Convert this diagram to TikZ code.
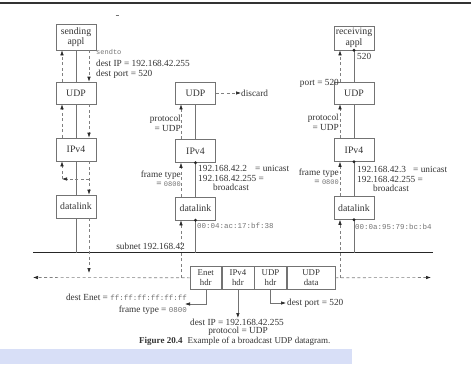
\documentclass[tikz,border=0pt]{standalone}
\usepackage{fontspec}
\setmainfont{Liberation Serif}
\setmonofont{Liberation Mono}
\usetikzlibrary{arrows.meta}
\definecolor{band}{RGB}{216,223,247}
\begin{document}
\begin{tikzpicture}[x=1pt,y=-1pt,
 box/.style={draw=black!55, line width=0.6pt, minimum width=40pt, inner sep=0pt, font=\fontsize{9.8}{10.5}\selectfont, text=black!80, align=center},
 cell/.style={draw=black!55, line width=0.6pt, minimum height=23pt, inner sep=0pt, font=\fontsize{8.8}{10}\selectfont, text=black!80, align=center, anchor=north west},
 lbl/.style={inner sep=0pt, font=\fontsize{9.3}{10}\selectfont, text=black!80},
 mono/.style={font=\fontsize{7.5}{9}\ttfamily, text=black!55},
 link/.style={draw=black!55, line width=0.6pt},
 flow/.style={draw=black!50, line width=0.6pt, dash pattern=on 3pt off 2.5pt, -{Latex[length=5pt,width=3.5pt,color=black!85]}},
 sarrow/.style={draw=black!55, line width=0.6pt, -{Latex[length=5pt,width=3.5pt,color=black!85]}},
 dot/.style={fill=black!85}
]
\useasboundingbox (0,0) rectangle (471,364);
% frame decorations of the scan
\draw[line width=1.4pt, black!80] (0,3) -- (471,3);
\fill[band] (0,349) rectangle (352,364);
\draw[black!55, line width=0.9pt] (115.5,15) -- (118.5,15);

% boxes
\node[box, minimum height=26pt] (sa) at (76,37) {sending\\appl};
\node[box, minimum height=22pt] (udpL) at (76,93) {UDP};
\node[box, minimum height=23pt] (ipL) at (76,149.5) {IPv4};
\node[box, minimum height=23pt] (dlL) at (76,206.5) {datalink};
\node[box, minimum height=22pt] (udpM) at (195.5,93) {UDP};
\node[box, minimum height=23pt] (ipM) at (195.5,151) {IPv4};
\node[box, minimum height=23pt] (dlM) at (195.5,208.5) {datalink};
\node[box, minimum height=24pt] (ra) at (354,38) {receiving\\appl};
\node[box, minimum height=22pt] (udpR) at (354,93) {UDP};
\node[box, minimum height=23pt] (ipR) at (354,150) {IPv4};
\node[box, minimum height=23pt] (dlR) at (354,208) {datalink};

% subnet
\coordinate (nL) at (33,252.5);
\coordinate (nR) at (433,252.5);
\draw[line width=1.6pt, black!85] (nL) -- (nR);
\node[lbl, anchor=east] (subnet) at (185,246) {subnet 192.168.42};

% solid links
\draw[link] (sa) -- (udpL);
\draw[link] (udpL) -- (ipL);
\draw[link] (ipL) -- (dlL);
\draw[link] (dlL.south) -- (dlL.south |- nL);
\draw[link] (udpM) -- (ipM);
\draw[link] (ipM) -- (dlM);
\draw[link] (dlM.south) -- (dlM.south |- nL);
\draw[link] (ra) -- (udpR);
\draw[link] (udpR) -- (ipR);
\draw[link] (ipR) -- (dlR);
\draw[link] (dlR.south) -- (dlR.south |- nL);

% dots
\fill[dot] (ipM.south) circle (1.6pt);
\fill[dot] (dlM.south) circle (1.6pt);
\fill[dot] (ra.south) circle (1.6pt);
\fill[dot] (ipR.south) circle (1.6pt);
\fill[dot] (dlR.south) circle (1.6pt);

% packet frame
\node[cell, minimum width=31pt] (fe) at (190,266) {Enet\\hdr};
\node[cell, minimum width=32pt] (fi) at (fe.north east) {IPv4\\hdr};
\node[cell, minimum width=32pt] (fu) at (fi.north east) {UDP\\hdr};
\node[cell, minimum width=48pt] (fd) at (fu.north east) {UDP\\data};

% wire
\coordinate (wL) at (33,277.5);
\coordinate (wR) at (431,277.5);
\draw[flow] (fe.west) -- (wL);
\draw[flow] (fd.east) -- (wR);

% sending path (left)
\draw[flow] ([xshift=13pt]sa.south) -- ([xshift=13pt]udpL.north);
\draw[flow] ([xshift=13pt]udpL.south) -- ([xshift=13pt]ipL.north);
\draw[flow] ([xshift=13pt]ipL.south) -- ([xshift=13pt]dlL.north);
\coordinate (lo) at (89,273);
\draw[flow] ([xshift=13pt]dlL.south) -- (lo);
\coordinate (lb) at (89,179);
\coordinate (lc) at (62,179);
\draw[flow] (lb) -- (lc);
\draw[flow] (lc) -- ([xshift=-14pt]ipL.south);
\draw[flow] ([xshift=-14pt]ipL.north) -- ([xshift=-14pt]udpL.south);
\draw[flow] ([xshift=-14pt]udpL.north) -- ([xshift=-14pt]sa.south);

% middle receiver
\coordinate (mU) at (181,277.5);
\draw[flow] (mU) -- ([xshift=-14.5pt]dlM.south);
\draw[flow] ([xshift=-14.5pt]dlM.north) -- ([xshift=-14.5pt]ipM.south);
\draw[flow] ([xshift=-14.5pt]ipM.north) -- ([xshift=-14.5pt]udpM.south);
\node[lbl, anchor=west] (disc) at (241,93) {discard};
\draw[flow] (udpM.east) -- (disc.west);

% right receiver
\coordinate (rU) at (340,277.5);
\draw[flow] (rU) -- ([xshift=-14pt]dlR.south);
\draw[flow] ([xshift=-14pt]dlR.north) -- ([xshift=-14pt]ipR.south);
\draw[flow] ([xshift=-14pt]ipR.north) -- ([xshift=-14pt]udpR.south);
\draw[flow] ([xshift=-14pt]udpR.north) -- ([xshift=-14pt]ra.south);

% left labels
\node[lbl, anchor=west] (l1) at (96,52) {\fontsize{7}{8}\ttfamily\color{black!55}sendto};
\node[lbl, anchor=west] (l2) at (96,63) {dest IP = 192.168.42.255};
\node[lbl, anchor=west] (l3) at (96,74) {dest port = 520};

% middle labels
\node[lbl, anchor=east] (m1) at (181,119) {protocol};
\node[lbl, anchor=east] (m2) at (181,128) {= UDP};
\node[lbl, anchor=east] (m3) at (181,175) {frame type};
\node[lbl, anchor=east] (m4) at (181,184) {= {\fontsize{7}{8}\ttfamily\color{black!55}0800}};
\node[lbl, anchor=west] (m5) at (198,168) {192.168.42.2};
\node[lbl, anchor=west] (m6) at (255,168) {= unicast};
\node[lbl, anchor=west] (m7) at (198,178) {192.168.42.255 =};
\node[lbl, anchor=west] (m8) at (213,187) {broadcast};
\node[mono, anchor=west, inner sep=0pt] (m9) at (197,226) {00:04:ac:17:bf:38};

% right labels
\node[lbl, anchor=east] (r1) at (339,83) {port = 520};
\node[lbl, anchor=west] (r2) at (357,56) {520};
\node[lbl, anchor=east] (r3) at (339,118) {protocol};
\node[lbl, anchor=east] (r4) at (339,127) {= UDP};
\node[lbl, anchor=east] (r5) at (339,173) {frame type};
\node[lbl, anchor=east] (r6) at (339,182) {= {\fontsize{7}{8}\ttfamily\color{black!55}0800}};
\node[lbl, anchor=west] (r7) at (357,169) {192.168.42.3};
\node[lbl, anchor=west] (r8) at (413,169) {= unicast};
\node[lbl, anchor=west] (r9) at (357,179) {192.168.42.255 =};
\node[lbl, anchor=west] (r10) at (373,188) {broadcast};
\node[mono, anchor=west, inner sep=0pt] (r11) at (355,227) {00:0a:95:79:bc:b4};

% bottom arrows and labels
\coordinate (ea) at (185,304);
\draw[sarrow] (fe.south) |- (ea);
\coordinate (ia) at (237,318);
\draw[sarrow] (fi.south) -- (fi.south |- ia);
\coordinate (ua) at (286,303);
\draw[sarrow] (fu.south) |- (ua);
\node[lbl, anchor=east] (b1) at (187,297) {dest Enet = {\fontsize{7.5}{8}\ttfamily\color{black!55}ff:ff:ff:ff:ff:ff}};
\node[lbl, anchor=east] (b2) at (187,310) {frame type = {\fontsize{7.5}{8}\ttfamily\color{black!55}0800}};
\node[lbl] (b3) at (237,322) {dest IP = 192.168.42.255};
\node[lbl] (b4) at (238,331) {protocol = UDP};
\node[lbl, anchor=west] (b5) at (287,303) {dest port = 520};

% caption
\node[lbl, anchor=west, font=\fontsize{9}{10}\selectfont] (cap) at (139,341) {\textbf{Figure 20.4}\hspace{5pt}Example of a broadcast UDP datagram.};
\end{tikzpicture}
\end{document}
